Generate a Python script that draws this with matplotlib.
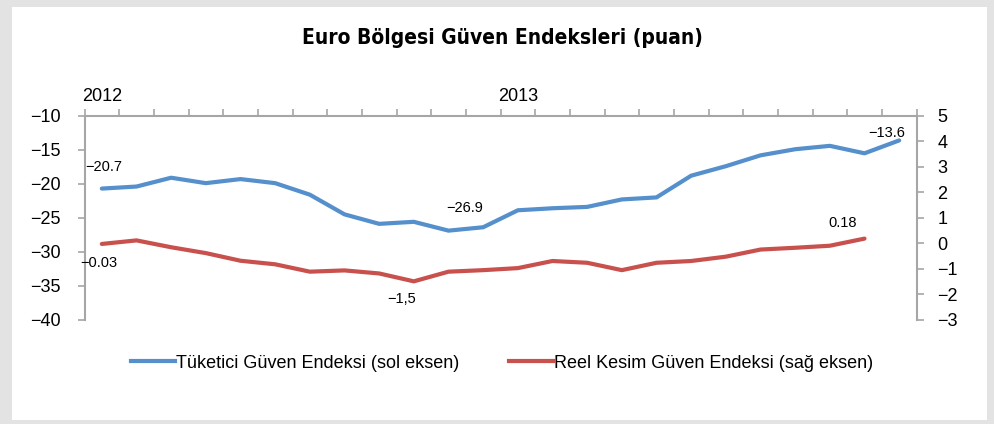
import matplotlib
matplotlib.use('Agg')
import matplotlib.pyplot as plt
from matplotlib.patches import Rectangle
from matplotlib.lines import Line2D

# monthly data Jan 2012 - Dec 2013
consumer = [-20.7, -20.4, -19.1, -19.9, -19.3, -19.9, -21.6, -24.5, -25.9, -25.6, -26.9, -26.4,
            -23.9, -23.6, -23.4, -22.3, -22.0, -18.8, -17.4, -15.8, -14.9, -14.4, -15.5, -13.6]
industry = [-0.03, 0.11, -0.16, -0.39, -0.69, -0.83, -1.12, -1.07, -1.19, -1.5, -1.12, -1.06,
            -0.98, -0.70, -0.77, -1.06, -0.77, -0.70, -0.53, -0.25, -0.18, -0.10, 0.18]
years = ['2012', '2013']
year_pos = [0, 12]
left_ticks = [-10, -15, -20, -25, -30, -35, -40]
right_ticks = [5, 4, 3, 2, 1, 0, -1, -2, -3]
labels_consumer = {0: '−20.7', 10: '−26.9', 23: '−13.6'}
labels_industry = {0: '−0.03', 9: '−1,5', 22: '0.18'}

BLUE = '#5590CC'
RED = '#C8514D'
AXIS = '#A6A6A6'

plt.rcParams['font.family'] = ['Liberation Sans', 'DejaVu Sans']

W, H = 994, 424
fig = plt.figure(figsize=(W / 100, H / 100), dpi=100, facecolor='#e3e3e3')
fig.patches.append(Rectangle((12 / W, 4 / H), 975 / W, 413 / H, transform=fig.transFigure,
                             facecolor='white', edgecolor='none', zorder=-5))

ax = fig.add_axes([84.5 / W, 1 - 319.5 / H, 832 / W, 203.5 / H])
ax.patch.set_visible(False)
ax2 = ax.twinx()
ax2.patch.set_visible(False)

x1 = [i + 0.5 for i in range(len(consumer))]
x2 = [i + 0.5 for i in range(len(industry))]
ax.plot(x1, consumer, color=BLUE, lw=3, solid_capstyle='round', zorder=3)
ax2.plot(x2, industry, color=RED, lw=3, solid_capstyle='round', zorder=3)

ax.set_xlim(0, 24)
ax.set_ylim(-40, -10)
ax2.set_ylim(-3, 5)
ax.set_yticks(left_ticks)
ax2.set_yticks(right_ticks)

ax.xaxis.tick_top()
ax.set_xticks(range(25))
ax.set_xticklabels([])
for a in (ax, ax2):
    a.spines['bottom'].set_visible(False)
    for s in ('left', 'right', 'top'):
        a.spines[s].set_color(AXIS)
        a.spines[s].set_linewidth(1.5)
ax.spines['right'].set_visible(False)
ax2.spines['left'].set_visible(False)
ax2.spines['top'].set_visible(False)
ax.tick_params(axis='x', length=5, width=1.2, color=AXIS, direction='out')
ax.tick_params(axis='y', length=5, width=1.2, color=AXIS, labelsize=13, pad=12)
ax2.tick_params(axis='y', length=5, width=1.2, color=AXIS, labelsize=13, pad=10)

for yr, p in zip(years, year_pos):
    ax.text(p + 0.5, 1.098, yr, transform=ax.get_xaxis_transform(), ha='center', va='center', fontsize=13)

offs_c = {0: (-17, 22), 10: (-2, 23), 23: (-31, 7)}
for i, t in labels_consumer.items():
    ax.annotate(t, (x1[i], consumer[i]), xytext=offs_c[i], textcoords='offset pixels',
                ha='left', va='center', fontsize=10.5)
offs_i = {0: (-22, -19), 9: (-27, -18), 22: (-36, 16)}
for i, t in labels_industry.items():
    ax2.annotate(t, (x2[i], industry[i]), xytext=offs_i[i], textcoords='offset pixels',
                 ha='left', va='center', fontsize=10.5)

fig.text(502 / W, 1 - 38 / H, 'Euro Bölgesi Güven Endeksleri (puan)', ha='center', va='center',
         fontsize=15, fontweight='bold', fontstretch='condensed', family=['DejaVu Sans'])

handles = [Line2D([], [], color=BLUE, lw=3), Line2D([], [], color=RED, lw=3)]
fig.legend(handles, ['Tüketici Güven Endeksi (sol eksen)', 'Reel Kesim Güven Endeksi (sağ eksen)'],
           loc='center', bbox_to_anchor=(502 / W, 1 - 363 / H), ncol=2, frameon=False,
           fontsize=13, handlelength=2.4, handletextpad=0.05, columnspacing=2.8)

fig.savefig('out.png', dpi=100, facecolor=fig.get_facecolor())
